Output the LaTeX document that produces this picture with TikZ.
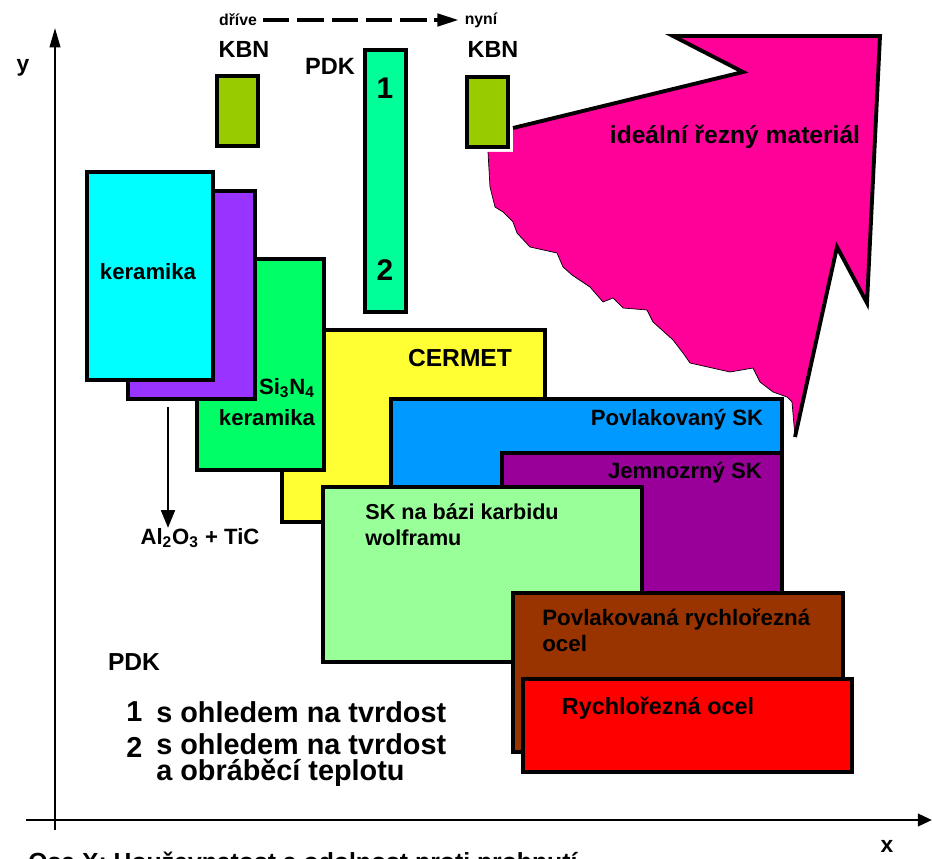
\documentclass[tikz,border=0pt]{standalone}
\usepackage{fontspec}
\setmainfont{Liberation Sans}
\usetikzlibrary{arrows.meta}
\definecolor{kbn}{HTML}{99CC00}
\definecolor{pdk}{HTML}{00FF99}
\definecolor{ideal}{HTML}{FF0099}
\definecolor{kera}{HTML}{00FFFF}
\definecolor{kerb}{HTML}{9933FF}
\definecolor{sin}{HTML}{00FF66}
\definecolor{cermet}{HTML}{FFFF33}
\definecolor{povsk}{HTML}{0099FF}
\definecolor{jemsk}{HTML}{990099}
\definecolor{wcsk}{HTML}{99FF99}
\definecolor{povro}{HTML}{993300}
\definecolor{rocel}{HTML}{FF0000}
\newcommand{\fs}[1]{\bfseries\fontsize{#1}{#1}\selectfont}

\begin{document}
\begin{tikzpicture}[x=0.02cm,y=-0.02cm,>=Triangle,font=\bfseries]
 \useasboundingbox (0,0) rectangle (932,858);
 \tikzset{box/.style={draw=black,line width=1.8pt},
   lbl/.style={inner sep=0pt,font=\fs{12.6}}}
 % ideal cutting material
 \fill[ideal] (513,128)--(743,72)--(673,36)--(880,36)--(867,303)--(837,247)--(795,437)
   --(792,402)--(787,397)--(773,392)--(760,382)--(753,368)--(730,372)--(690,363)
   --(683,353)--(673,340)--(653,322)--(647,310)--(623,308)--(613,298)--(603,302)
   --(590,287)--(572,275)--(563,267)--(557,253)--(530,247)--(517,233)--(513,222)
   --(503,212)--(495,207)--(490,187)--(488,152)--(513,152)--cycle;
 \draw[line width=0.4pt] (795,437)--(792,402)--(787,397)--(773,392)--(760,382)--(753,368)
   --(730,372)--(690,363)--(683,353)--(673,340)--(653,322)--(647,310)--(623,308)
   --(613,298)--(603,302)--(590,287)--(572,275)--(563,267)--(557,253)--(530,247)
   --(517,233)--(513,222)--(503,212)--(495,207)--(490,187)--(488,152);
 \draw[line width=2.2pt,miter limit=20] (513,128)--(743,72)--(673,36)--(880,36)--(867,303)--(837,247)--(795,437);
 % material fields
 \foreach \xa/\ya/\xb/\yb/\col in {365/50/406/312/pdk, 217/76/258/146/kbn, 467/77/508/147/kbn,
   282/330/545/522/cermet, 197/259/324/470/sin, 128/191/255/399/kerb, 87/172/213/380/kera,
   391/399/782/500/povsk, 502/453/782/593/jemsk, 323/487/642/662/wcsk,
   513/593/843/752/povro, 523/679/852/772/rocel}
  \filldraw[box,fill=\col] (\xa,\ya) rectangle (\xb,\yb);
 % axes
 \coordinate (ybot) at (55,830);
 \coordinate (ytop) at (55,28);
 \coordinate (xlft) at (26,820);
 \coordinate (xrgt) at (932,820);
 \draw[line width=1.2pt,-{Triangle[length=11pt,width=6pt]}] (ybot)--(ytop);
 \draw[line width=1.6pt,-{Triangle[length=8pt,width=7pt]}] (xlft)--(xrgt);
 \node[font=\fs{13}] (ylab) at (23,68) {y};
 \node[font=\fs{13}] (xlab) at (887,846) {x};
 \node[anchor=base west,inner sep=0pt,font=\fs{14.1}] (osax) at (28,870)
  {Osa X: Houževnatost a odolnost proti prohnutí};
 % time line
 \node[font=\fs{9}] (drive) at (238,20) {dříve};
 \node[font=\fs{9}] (nyni) at (481,20) {nyní};
 \draw[line width=2pt,dash pattern=on 15pt off 4.5pt,-{Triangle[length=12pt,width=7pt]}]
  (drive)--(nyni);
 \node[font=\fs{13.3}] (kbna) at (244,49) {KBN};
 \node[font=\fs{13.3}] (kbnb) at (493,49) {KBN};
 \node[font=\fs{13.4}] (pdk) at (330,66) {PDK};
 \node[font=\fs{17}] (pdka) at (385,88) {1};
 \node[font=\fs{17}] (pdkb) at (385,270) {2};
 \node[font=\fs{14}] (ideal) at (735,137) {ideální řezný materiál};
 % labels of the fields
 \node[lbl] (kera) at (148,272) {keramika};
 \node[lbl] (sin) at (287,388) {Si\textsubscript{3}N\textsubscript{4}};
 \node[lbl] (sinb) at (267,418) {keramika};
 \node[lbl,font=\fs{14}] (cermet) at (460,358) {CERMET};
 \node[lbl] (povsk) at (677,420) {Povlakovaný SK};
 \node[lbl] (jemsk) at (685,473) {Jemnozrný SK};
 \node[lbl,anchor=west,align=left,font=\bfseries\fontsize{12.3}{14.7}\selectfont] (wcsk) at (365,525)
  {SK na bázi karbidu\\wolframu};
 \node[lbl,anchor=west,align=left,font=\bfseries\fontsize{12.7}{14.7}\selectfont] (povro) at (542,630)
  {Povlakovaná rychlořezná\\ocel};
 \node[lbl,font=\fs{13.3}] (rocel) at (658,708) {Rychlořezná ocel};
 % Al2O3 branch
 \coordinate (alt) at (168,407);
 \node[lbl] (al) at (200,538) {Al\textsubscript{2}O\textsubscript{3} + TiC};
 \draw[line width=0.8pt,-{Triangle[length=10pt,width=8pt]}] (alt)--(alt |- al.north) ;
 % legend
 \node[lbl,font=\fs{14}] (pdkl) at (134,662) {PDK};
 \node[lbl,anchor=west,font=\fs{16.4}] (lega) at (126,712) {1};
 \node[lbl,anchor=west,font=\fs{16.4}] (legat) at (156,712) {s ohledem na tvrdost};
 \node[lbl,anchor=west,font=\fs{16.4}] (legb) at (126,747) {2};
 \node[lbl,anchor=west,align=left,font=\bfseries\fontsize{16.4}{14.8}\selectfont] (legbt) at (156,760)
  {s ohledem na tvrdost\\a obráběcí teplotu};
\end{tikzpicture}
\end{document}
